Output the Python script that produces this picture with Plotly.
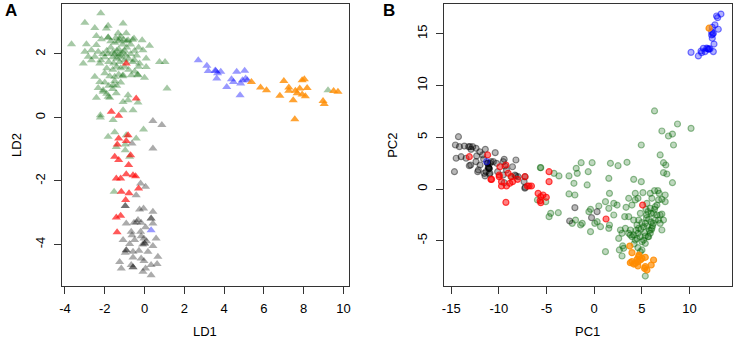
import plotly.graph_objects as go

W, H = 737, 341

# ---------------- Panel A (LDA) data ----------------
lda_green = [(-2.2,3.28),(-3.0,2.98),(-2.5,2.82),(-1.92,2.80),(-1.83,2.89),(-1.08,2.96),(-1.33,2.65),(-0.92,2.65),
    (-2.42,2.57),(-1.83,2.52),(-2.17,2.46),(-1.25,2.46),(-0.83,2.43),(-0.53,2.49),(-0.12,2.43),(-3.67,2.31),
    (-2.92,2.31),(-2.42,2.28),(0.25,2.26),(-2.67,2.12),(-2.33,2.07),(-3.0,2.07),(-0.08,2.12),(-2.83,1.91),
    (-2.5,1.91),(-3.08,1.70),(-2.67,1.80),(-2.25,1.70),(0.75,1.75),(1.03,1.75),(0.08,1.86),(-0.5,1.80),
    (-0.25,1.70),(0.08,1.59),(-2.5,1.28),(-2.0,1.39),(-1.5,1.28),(-0.67,1.33),(0.0,1.25),(-2.25,1.12),
    (-1.58,1.02),(-2.33,0.93),(-2.08,0.81),(-2.42,0.62),(-1.83,0.65),(-1.42,0.76),(-1.08,0.49),(-0.83,0.54),
    (-0.33,0.47),(1.13,0.91),(-2.22,0.07),(-2.22,0.0),(-1.58,-0.08),(-1.08,0.23),(-0.58,0.23),(-0.83,0.70),
    (-1.75,0.62),(-0.05,-0.38),(-0.42,-0.66),(-0.92,-0.56),(-1.5,-0.47),(-1.83,-0.61),(-0.97,-0.85),
    (-0.97,-1.03),(-1.42,-0.93),(-0.75,-1.24),(9.22,0.86),(-1.53,-2.34),
    (-1.9,2.1),(-1.7,2.2),(-1.5,2.0),(-1.3,2.15),(-1.1,2.05),(-0.9,2.2),(-0.7,2.0),(-0.5,2.1),(-1.6,1.9),
    (-1.4,1.85),(-1.2,1.9),(-1.0,1.8),(-0.8,1.85),(-0.6,1.75),(-1.8,1.75),(-2.0,1.9),(-1.5,2.35),(-1.3,2.4),
    (-1.1,2.3),(-0.9,2.4),(-1.7,2.4),(-1.2,2.55),(-0.7,2.3),(-0.4,1.95),(-0.3,2.2),(-1.4,1.6),(-1.2,1.55),
    (-1.6,1.5),(-1.0,1.6),(-0.8,1.5),(-1.9,1.55),(-1.3,1.35),(-1.1,1.3),(-0.5,1.45),(-0.3,1.6),(-1.75,1.3),
    (-1.5,1.15),(-1.2,1.1),(-1.6,2.05),(-1.4,2.1),(-1.2,2.0),(-1.0,2.1),(-1.35,1.95),(-1.55,1.7),(-1.25,1.75),
    (-0.95,1.95),(-2.1,2.0),(-2.2,1.8),(-1.85,2.0),(-0.6,2.45),(-1.45,2.5),(-1.05,2.45),(-0.35,1.35),
    (-0.33,1.33),(-1.08,1.33),(-1.83,2.52),(-2.08,0.86),(-1.8,1.0),(-1.6,0.9),(-1.9,0.75),(-2.0,1.1),(-1.4,1.0)]
lda_grey = [(0.42,-0.11),(0.87,-0.24),(0.42,-0.98),(-0.63,-0.82),(-0.2,-2.08),(0.05,-2.18),(-0.42,-2.45),
    (-0.97,-2.79),(-0.25,-2.9),(-0.05,-2.87),(0.42,-2.97),(0.33,-3.18),(0.42,-3.34),(-0.92,-3.34),(-0.53,-3.32),
    (-0.33,-3.23),(-0.17,-3.32),(0.05,-3.46),(-0.67,-3.6),(-0.63,-3.71),(-0.17,-3.74),(-0.03,-3.81),(0.58,-3.81),
    (-1.08,-3.86),(-0.5,-3.86),(0.0,-3.97),(-0.75,-3.99),(0.42,-4.05),(-0.92,-4.18),(-0.97,-4.26),(-0.58,-4.23),
    (-0.28,-4.2),(0.17,-4.23),(-0.58,-4.41),(-0.17,-4.44),(-0.03,-4.52),(0.67,-4.39),(-1.25,-4.55),(-1.17,-4.76),
    (-0.67,-4.65),(-0.58,-4.72),(0.05,-4.76),(0.33,-4.65),(0.63,-4.62),(-0.08,-4.86),(0.33,-4.97),
    (0.33,-3.18),(0.0,-3.97),(-0.97,-2.79),(-0.92,-4.18),(-0.58,-4.72),(-0.4,-3.3),(-0.2,-3.6),(0.1,-3.9),(-0.1,-4.0)]
lda_red = [(-0.92,1.70),(-0.42,0.60),(-1.67,0.18),(-1.3,0.05),(-1.3,-0.66),(-0.83,-0.56),(-1.37,-0.85),
    (-0.92,-0.74),(-1.5,-1.24),(-1.3,-1.34),(-0.7,-1.19),(-0.8,-1.5),(-1.42,-1.92),(-1.2,-1.92),(-0.92,-1.79),
    (-0.58,-1.82),(-0.45,-1.85),(-0.3,-2.24),(-1.17,-2.34),(-0.78,-2.39),(-0.95,-2.6),(-1.42,-3.15),(-1.2,-3.1),
    (-1.38,-3.62)]
lda_blue = [(2.7,1.80),(3.13,1.63),(3.2,1.46),(3.58,1.46),(3.67,1.39),(3.83,1.44),(3.63,1.23),(4.37,1.20),
    (4.47,1.12),(4.13,0.96),(4.63,1.44),(5.03,1.47),(5.08,1.23),(4.92,1.17),(4.83,1.07),(4.8,0.70),(5.17,1.17),
    (3.55,1.48),(0.33,-3.55)]
lda_orange = [(5.37,1.12),(5.83,0.94),(6.13,0.86),(6.8,0.68),(7.0,1.15),(7.25,0.94),(7.25,0.84),(7.47,0.54),
    (7.58,0.84),(7.67,0.76),(7.8,0.91),(7.92,1.17),(8.03,1.2),(7.92,0.72),(8.08,0.67),(8.17,0.93),(7.55,-0.06),
    (8.97,0.52),(9.03,0.42),(9.5,0.83),(9.72,0.81)]

# ---------------- Panel B (PCA) data ----------------
pca_green = [(3.63,-4.28),(3.80,-3.96),(3.97,-4.61),(4.15,-4.44),(4.32,-4.93),(4.50,-4.77),(4.85,-4.61),
    (5.02,-5.09),(5.19,-4.93),(5.37,-4.54),(5.72,-4.61),(5.89,-4.28),(6.06,-3.80),(6.23,-3.32),(6.41,-3.0),
    (5.99,-2.35),(5.89,-1.87),(5.65,-2.19),(5.44,-1.96),(5.54,-1.38),(4.85,-2.35),(4.67,-3.0),(5.02,-3.25),
    (5.19,-3.64),(5.37,-3.32),(5.72,-2.93),(6.24,-2.35),(6.59,-2.51),(6.76,-3.0),(6.93,-3.32),(7.11,-3.96),
    (7.28,-3.0),(6.93,-2.51),(6.34,-1.96),(6.41,-1.71),(6.59,-1.55),(6.76,-1.06),(7.11,-1.0),(7.46,-1.22),
    (6.83,-0.42),(6.69,-0.16),(6.34,-0.16),(5.89,-0.42),(6.06,-0.90),(7.46,-0.58),(7.63,1.45),(7.28,1.58),
    (8.22,0.61),(7.11,-2.42),(6.13,-3.57),(5.99,-3.96),(5.65,-4.61),(5.37,-5.25),(5.02,-5.89),(4.85,-6.05),
    (4.60,-5.67),(4.32,-1.06),(4.60,-0.90),(3.97,-1.55),(3.35,-1.77),(3.63,-0.90),(4.15,0.93),(4.95,0.71),
    (5.12,-0.35),(4.32,-0.42),(3.63,-2.67),(3.28,-3.80),(2.93,-4.28),(3.80,-4.44),(4.60,-4.28),(4.67,-3.80),
    (4.50,-3.48),(4.15,-3.0),(-2.64,1.26),(-2.12,0.55),(-1.77,1.51),(-0.73,0.39),(-0.62,1.67),(-2.64,-0.48),
    (-2.02,-0.58),(-5.95,-1.06),(-5.08,-1.22),(-4.56,-2.35),(-4.73,-2.67),(-3.76,-2.29),(-4.21,1.51),(-3.69,1.26),
    (-2.30,-3.32),(-1.95,-3.0),(-1.25,-3.32),(-1.42,-3.48),(-0.55,-2.19),(-0.38,-1.96),(0.07,-3.32),(0.32,-3.16),
    (0.67,-3.64),(-0.38,-4.12),(0.49,-1.64),(1.19,-1.22),(1.54,-1.87),(2.06,-1.38),(2.41,-1.55),(1.54,1.03),
    (1.61,-0.42),(2.06,-2.51),(1.61,-3.48),(1.54,-3.80),(1.19,-6.05),(2.58,-4.77),(2.76,-3.96),(2.65,-5.89),
    (3.10,-5.73),(2.93,-6.47),(3.21,-2.67),(6.34,7.54),(7.11,5.6),(7.80,5.12),(8.22,5.31),(8.75,6.28),
    (10.17,5.86),(8.33,4.25),(4.95,4.25),(6.93,3.29),(7.28,2.54),(7.52,2.32),(1.71,2.48),(2.51,2.25),(3.45,2.58),
    (-1.36,2.54),(-0.21,2.54),(-5.6,2.06),(-1.88,2.0),(-5.64,2.06),(-8.73,1.19),(5.37,-8.41),
    (5.5,-2.8),(5.6,-3.6),(5.8,-4.0),(4.9,-3.9),(4.4,-4.0),(5.3,-4.2),(6.0,-3.2),(5.5,-2.5),(4.2,-5.3),(3.0,-5.5)]
pca_grey = [(-14.24,5.05),(-14.56,4.25),(-14.14,4.09),(-13.62,4.15),(-13.17,4.09),(-12.75,4.09),(-12.92,3.83),
    (-12.39,3.93),(-11.42,3.83),(-14.48,2.97),(-13.96,3.12),(-13.44,2.97),(-13.1,2.25),(-12.4,2.64),(-11.7,3.29),
    (-10.38,3.51),(-9.44,2.87),(-8.21,2.8),(-10.83,2.64),(-8.57,2.15),(-14.66,1.67),(-13.03,4.09),(-12.33,3.19),
    (-12.96,2.32),(-12.15,1.84),(-11.97,2.32),(-11.45,1.26),(-10.93,1.52),(-10.93,2.48),(-10.58,2.64),
    (-10.24,2.48),(-9.54,2.64),(-9.36,2.22),(-9.2,1.84),(-8.32,1.35),(-7.97,1.19),(-7.35,0.71),(-9.54,1.35),
    (-7.27,0.07),(-12.22,1.67),(-11.53,1.51),(-10.13,1.67),(-9.44,0.61),(-8.21,1.26),(-7.24,1.19),(-7.24,0.16),
    (-2.57,-3.09),(-2.02,-1.80),(-0.27,-2.77),(0.31,-2.19),(-11.18,2.48),(-11.03,2.0),(-11.0,1.45),(-11.35,1.67),
    (-11.1,2.1),(-11.6,2.9),(-12.0,3.6),(-11.03,2.0),(-11.1,2.05),(-11.0,1.95),(-11.18,2.48)]
pca_red = [(-13.1,3.12),(-11.18,3.29),(-9.26,2.32),(-9.89,2.15),(-9.96,1.35),(-10.76,0.93),(-9.72,0.71),
    (-9.02,1.52),(-8.67,1.19),(-9.72,0.29),(-9.2,0.29),(-8.85,0.55),(-7.27,1.19),(-6.82,0.29),(-6.58,0.29),
    (-4.73,1.67),(-5.88,-0.42),(-5.36,-0.58),(-5.02,-0.8),(-10.83,0.93),(-9.96,1.19),(-9.26,-1.29),(-8.56,0.71),
    (-8.04,0.93),(-7.0,0.29),(-5.6,-0.74),(-5.67,-1.13),(-5.6,-1.32),(-4.73,0.71),(1.25,-2.90),(5.09,-1.55)]
pca_blue = [(10.17,13.2),(10.94,12.85),(11.29,13.17),(11.64,13.27),(11.81,13.6),(11.99,13.5),(12.16,13.53),
    (12.51,13.27),(12.58,14.0),(12.33,14.88),(12.51,15.04),(12.33,15.2),(13.03,15.43),(12.68,15.85),(12.4,15.62),
    (12.85,16.71),(13.31,16.9),(11.46,13.59),(12.06,13.53),(12.4,14.56),(12.96,16.55),(11.22,13.33),
    (11.9,13.55),(12.45,14.95),(-11.28,2.64)]
pca_orange = [(12.06,15.53),(3.74,-5.51),(3.97,-6.15),(3.80,-7.12),(4.15,-7.25),(3.97,-7.02),(4.50,-6.80),
    (4.67,-6.54),(4.85,-6.86),(5.02,-6.70),(4.60,-7.02),(4.32,-7.18),(4.71,-6.38),(5.37,-6.60),(5.37,-7.50),
    (5.54,-7.83),(5.30,-7.67),(5.99,-7.34),(6.24,-6.86),(4.60,-7.44)]

lda_x_ticks = [-4, -2, 0, 2, 4, 6, 8, 10]
lda_y_ticks = [-4, -2, 0, 2]
pca_x_ticks = [-15, -10, -5, 0, 5, 10]
pca_y_ticks = [-5, 0, 5, 10, 15]

def rgba(rgb, a):
    return "rgba(%d,%d,%d,%.2f)" % (rgb[0], rgb[1], rgb[2], a)

GREEN = (0, 100, 0); GREY = (0, 0, 0); RED = (255, 0, 0); BLUE = (0, 0, 255); ORANGE = (255, 140, 0)

fig = go.Figure()

def add_tri(pts, rgb, a):
    fig.add_trace(go.Scatter(x=[p[0] for p in pts], y=[p[1] for p in pts], mode="markers",
        xaxis="x", yaxis="y", showlegend=False, hoverinfo="skip",
        marker=dict(symbol="triangle-up", size=8, color=rgba(rgb, a), line=dict(width=0))))

def add_circ(pts, rgb, fa, la):
    fig.add_trace(go.Scatter(x=[p[0] for p in pts], y=[p[1] for p in pts], mode="markers",
        xaxis="x2", yaxis="y2", showlegend=False, hoverinfo="skip",
        marker=dict(symbol="circle", size=6, color=rgba(rgb, fa), line=dict(width=1.2, color=rgba(rgb, la)))))

add_tri(lda_green, GREEN, 0.35)
add_tri(lda_grey, GREY, 0.33)
add_tri(lda_red, RED, 0.65)
add_tri(lda_blue, BLUE, 0.4)
add_tri(lda_orange, ORANGE, 0.8)

add_circ(pca_green, GREEN, 0.25, 0.4)
add_circ(pca_grey, GREY, 0.28, 0.42)
add_circ(pca_red, RED, 0.5, 0.7)
add_circ(pca_blue, BLUE, 0.3, 0.5)
add_circ(pca_orange, ORANGE, 0.7, 0.85)

FONT = "Liberation Sans, Arial, sans-serif"
axcommon = dict(showgrid=False, zeroline=False, showline=True, mirror=True, linecolor="#333333",
                linewidth=1, ticks="outside", ticklen=7, tickcolor="#333333", tickwidth=1,
                tickfont=dict(family=FONT, size=13, color="black"), ticklabelstandoff=3)

def labels(vals):
    return [str(v) for v in vals]

fig.update_layout(
    width=W, height=H, margin=dict(l=0, r=0, t=0, b=0),
    paper_bgcolor="white", plot_bgcolor="white", hovermode=False,
    xaxis=dict(domain=[60/W, 349/W], range=[-4.165, 10.28], tickvals=lda_x_ticks, ticktext=labels(lda_x_ticks),
               anchor="y", **axcommon),
    yaxis=dict(domain=[1-286/H, 1-3.5/H], range=[-5.31, 3.59], tickvals=lda_y_ticks, ticktext=labels(lda_y_ticks),
               tickangle=-90, anchor="x", **axcommon),
    xaxis2=dict(domain=[444/W, 733.5/W], range=[-15.8, 14.42], tickvals=pca_x_ticks, ticktext=labels(pca_x_ticks),
                anchor="y2", **axcommon),
    yaxis2=dict(domain=[1-286/H, 1-4/H], range=[-9.37, 17.87], tickvals=pca_y_ticks, ticktext=labels(pca_y_ticks),
                tickangle=-90, anchor="x2", **axcommon),
)

def ann(text, x, y, size=13, angle=0, bold=False):
    fig.add_annotation(text=("<b>%s</b>" % text) if bold else text, x=x/W, y=1-y/H, xref="paper", yref="paper",
        showarrow=False, textangle=angle, xanchor="center", yanchor="middle",
        font=dict(family=FONT, size=size, color="black"))

ann("LD1", 204.5, 331)
ann("PC1", 588.5, 331)
ann("LD2", 14, 145, angle=-90)
ann("PC2", 392, 145, angle=-90)
ann("A", 9, 11, size=17, bold=True)
ann("B", 389, 11, size=17, bold=True)

fig.write_html("out.html", config={"displayModeBar": False},
               post_script="document.body.style.margin='0px';document.body.style.overflow='hidden';")
